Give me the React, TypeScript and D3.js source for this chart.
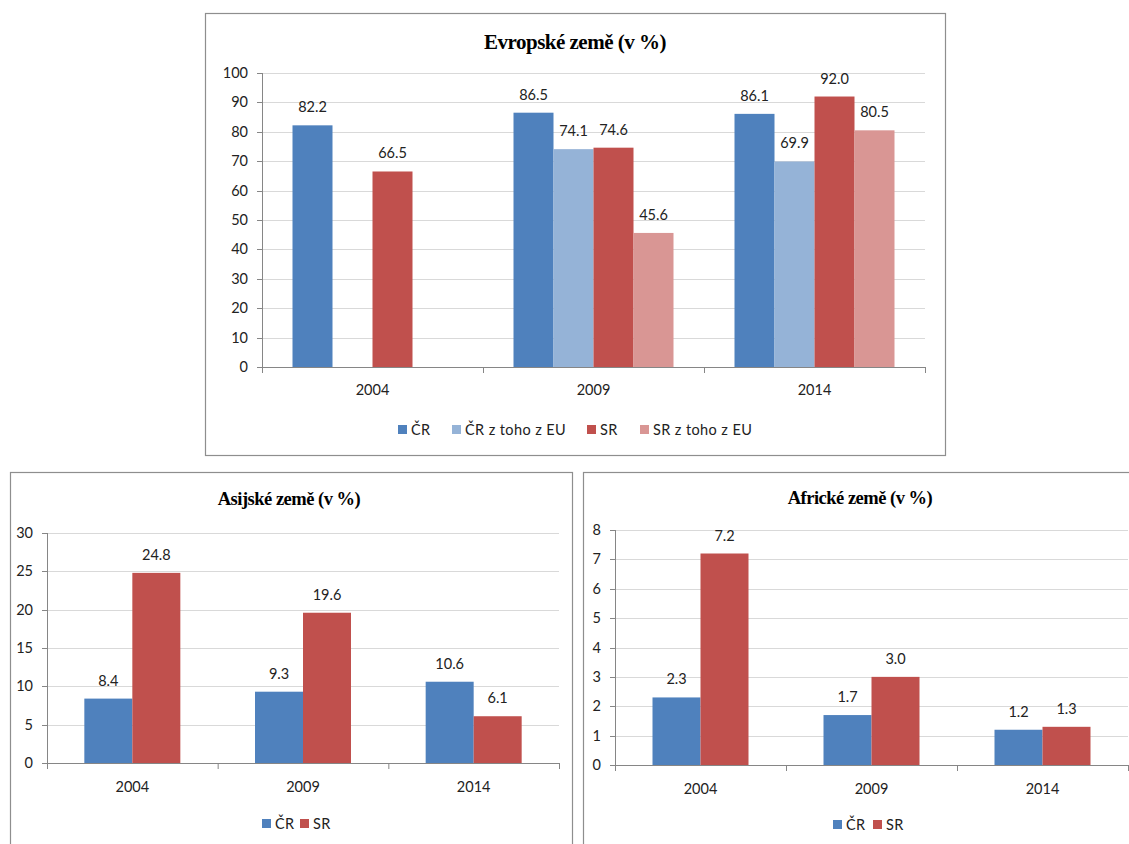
import React from "react";
import * as d3 from "d3";

const years = ["2004", "2009", "2014"];

const euSeries = ["ČR", "ČR z toho z EU", "SR", "SR z toho z EU"];
const euColors = ["#4F81BD", "#95B3D7", "#C0504D", "#D99694"];
const euCR = [82.2, 86.5, 86.1];
const euCREU = [null, 74.1, 69.9];
const euSR = [66.5, 74.6, 92.0];
const euSREU = [null, 45.6, 80.5];
const euTicks = [0, 10, 20, 30, 40, 50, 60, 70, 80, 90, 100];

const twoSeries = ["ČR", "SR"];
const twoColors = ["#4F81BD", "#C0504D"];
const asiaCR = [8.4, 9.3, 10.6];
const asiaSR = [24.8, 19.6, 6.1];
const asiaTicks = [0, 5, 10, 15, 20, 25, 30];

const afCR = [2.3, 1.7, 1.2];
const afSR = [7.2, 3.0, 1.3];
const afTicks = [0, 1, 2, 3, 4, 5, 6, 7, 8];

const FONT = "Lato, 'Open Sans', sans-serif";
const TFONT = "'Liberation Serif', 'DejaVu Serif', serif";
const FS = 14.5;

type PanelProps = {
  box: [number, number, number, number];
  title: string;
  titleY: number;
  titleX: number;
  titleSize: number;
  plot: { x0: number; x1: number; y0: number; y1: number };
  ticks: number[];
  series: string[];
  colors: string[];
  values: (number | null)[][];
  barW: number;
  catY: number;
  legendY: number;
  legendX: number[];
};

function Panel(p: PanelProps) {
  const { box, plot, ticks, series, colors, values, barW } = p;
  const y = d3.scaleLinear().domain([ticks[0], ticks[ticks.length - 1]]).range([plot.y0, plot.y1]);
  const x = d3.scaleBand().domain(years).range([plot.x0, plot.x1]).paddingInner(0).paddingOuter(0);
  const inner = d3
    .scaleBand()
    .domain(series)
    .range([(x.bandwidth() - barW * series.length) / 2, (x.bandwidth() + barW * series.length) / 2]);
  const boundaries = [0, 1, 2, 3].map((i) => plot.x0 + i * x.bandwidth());
  return (
    <g>
      <rect x={box[0] + 0.5} y={box[1] + 0.5} width={box[2]} height={box[3]} fill="#fff" stroke="#8e8e8e" strokeWidth={1.2} />
      <text x={p.titleX} y={p.titleY} textAnchor="middle" fontFamily={TFONT} fontWeight="bold" fontSize={p.titleSize} letterSpacing={-0.5} fill="#000">
        {p.title}
      </text>
      {ticks.map((t) => (
        <g key={t}>
          {t !== ticks[0] && (
            <line x1={plot.x0} x2={plot.x1} y1={Math.round(y(t)) + 0.5} y2={Math.round(y(t)) + 0.5} stroke="#d9d9d9" />
          )}
          <line x1={plot.x0 - 5} x2={plot.x0} y1={Math.round(y(t)) + 0.5} y2={Math.round(y(t)) + 0.5} stroke="#868686" />
          <text x={plot.x0 - 14} y={y(t)} dy="0.35em" textAnchor="end" fontFamily={FONT} fontSize={FS} fill="#222">
            {t}
          </text>
        </g>
      ))}
      {years.map((yr, i) =>
        series.map((s, j) => {
          const v = values[j][i];
          if (v === null || v === undefined) return null;
          const bx = (x(yr) as number) + (inner(s) as number);
          return (
            <g key={yr + s}>
              <rect x={bx} y={y(v)} width={barW} height={y(0) - y(v)} fill={colors[j]} />
              <text x={bx + barW / 2} y={y(v) - 13} textAnchor="middle" fontFamily={FONT} fontSize={FS} fill="#222">
                {v.toFixed(1)}
              </text>
            </g>
          );
        })
      )}
      <line x1={plot.x0 + 0.5} x2={plot.x0 + 0.5} y1={plot.y1} y2={plot.y0} stroke="#868686" />
      <line x1={plot.x0} x2={plot.x1} y1={Math.round(plot.y0) + 0.5} y2={Math.round(plot.y0) + 0.5} stroke="#868686" />
      {boundaries.map((b, i) => (
        <line key={i} x1={b + 0.5} x2={b + 0.5} y1={plot.y0} y2={plot.y0 + 6} stroke="#868686" />
      ))}
      {years.map((yr) => (
        <text key={yr} x={(x(yr) as number) + x.bandwidth() / 2} y={p.catY} dy="0.35em" textAnchor="middle" fontFamily={FONT} fontSize={FS} fill="#222">
          {yr}
        </text>
      ))}
      {series.map((s, j) => (
        <g key={s}>
          <rect x={p.legendX[j]} y={p.legendY - 5} width={9} height={9} fill={colors[j]} />
          <text x={p.legendX[j] + 13} y={p.legendY} dy="0.35em" fontFamily={FONT} fontSize={FS} letterSpacing={0.4} fill="#222">
            {s}
          </text>
        </g>
      ))}
    </g>
  );
}

export default function App() {
  return (
    <svg width={1129} height={844} style={{ position: "absolute", left: 0, top: 0, background: "#fff" }}>
      <Panel
        box={[205, 13, 740, 442]}
        title="Evropské země (v %)"
        titleY={49}
        titleX={575}
        titleSize={21}
        plot={{ x0: 262, x1: 925, y0: 367, y1: 73 }}
        ticks={euTicks}
        series={euSeries}
        colors={euColors}
        values={[euCR, euCREU, euSR, euSREU]}
        barW={40}
        catY={390}
        legendY={430}
        legendX={[398, 452, 587, 640]}
      />
      <Panel
        box={[10, 472, 562, 380]}
        title="Asijské země (v %)"
        titleY={505}
        titleX={289}
        titleSize={18.5}
        plot={{ x0: 47, x1: 559, y0: 763, y1: 533 }}
        ticks={asiaTicks}
        series={twoSeries}
        colors={twoColors}
        values={[asiaCR, asiaSR]}
        barW={48}
        catY={787}
        legendY={824}
        legendX={[262, 300]}
      />
      <Panel
        box={[583, 472, 560, 380]}
        title="Africké země (v %)"
        titleY={504}
        titleX={860}
        titleSize={18.5}
        plot={{ x0: 615, x1: 1128, y0: 765, y1: 530 }}
        ticks={afTicks}
        series={twoSeries}
        colors={twoColors}
        values={[afCR, afSR]}
        barW={48}
        catY={789}
        legendY={825}
        legendX={[833, 873]}
      />
    </svg>
  );
}
